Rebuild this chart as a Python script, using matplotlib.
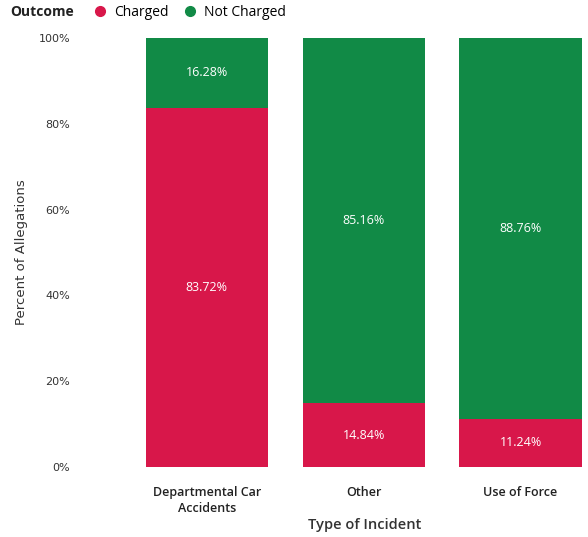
import matplotlib.pyplot as plt
from matplotlib.lines import Line2D

plt.rcParams['font.family'] = ['Open Sans', 'DejaVu Sans']

incidents = ['Departmental Car\nAccidents', 'Other', 'Use of Force']
charged = [83.72, 14.84, 11.24]
not_charged = [16.28, 85.16, 88.76]
yticks = [0, 20, 40, 60, 80, 100]

red = '#D8174A'
green = '#118A46'

fig = plt.figure(figsize=(5.88, 5.37), dpi=100)
ax = fig.add_axes([130/588, 70/537, 458/588, 429/537])

x = list(range(len(incidents)))
ax.bar(x, charged, width=0.78, color=red)
ax.bar(x, not_charged, bottom=charged, width=0.78, color=green)

for i in x:
    ax.text(i, charged[i] / 2, f'{charged[i]:.2f}%', color='white',
            ha='center', va='center', fontsize=9)
    ax.text(i, charged[i] + not_charged[i] / 2, f'{not_charged[i]:.2f}%',
            color='white', ha='center', va='center', fontsize=9)

ax.set_xlim(-0.49, 2.43)
ax.set_ylim(0, 100)
ax.set_yticks(yticks)
ax.set_yticklabels([f'{t}%' for t in yticks], fontsize=8, color='#333333',
                   fontfamily='DejaVu Sans')
ax.tick_params(axis='y', length=0, pad=43)
ax.set_xticks(x)
ax.set_xticklabels(incidents, fontsize=9, color='#222222', fontweight='semibold',
                   linespacing=1.3)
ax.tick_params(axis='x', length=0, pad=14)
for s in ax.spines.values():
    s.set_visible(False)

fig.text(365/588, 1 - 525/537, 'Type of Incident', fontsize=10.5,
         color='#333333', fontweight='semibold', ha='center', va='center')
fig.text(22/588, 1 - 252/537, 'Percent of Allegations', rotation=90,
         ha='center', va='center', fontsize=9.5, color='#333333',
         fontfamily='DejaVu Sans')

fig.text(10/588, 1 - 12/537, 'Outcome', fontsize=10, fontweight='bold',
         color='#222222', ha='left', va='center')
handles = [Line2D([], [], marker='o', ls='', color=red, markersize=7),
           Line2D([], [], marker='o', ls='', color=green, markersize=7)]
fig.legend(handles, ['Charged', 'Not Charged'], ncol=2, frameon=False,
           loc='center left', bbox_to_anchor=(86/588, 1 - 12/537),
           handletextpad=0.0, columnspacing=0.6, fontsize=10,
           borderaxespad=0, borderpad=0)

fig.savefig('out.png', dpi=100)
